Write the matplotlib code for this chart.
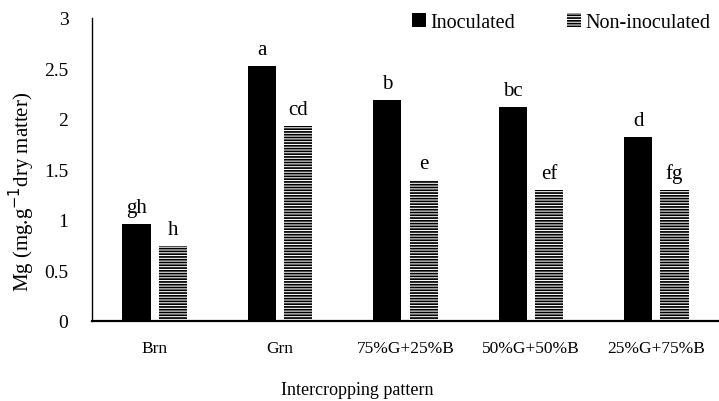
import matplotlib
matplotlib.use("Agg")
import matplotlib.pyplot as plt
import numpy as np

categories = ["Brn", "Grn", "75%G+25%B", "50%G+50%B", "25%G+75%B"]
inoculated = [0.96, 2.52, 2.19, 2.12, 1.82]
non_inoculated = [0.74, 1.93, 1.39, 1.29, 1.29]
letters_inoc = ["gh", "a", "b", "bc", "d"]
letters_non = ["h", "cd", "e", "ef", "fg"]
yticks = [0, 0.5, 1, 1.5, 2, 2.5, 3]
ytick_labels = ["0", "0.5", "1", "1.5", "2", "2.5", "3"]

plt.rcParams['font.family'] = ['Liberation Serif', 'DejaVu Serif']
plt.rcParams['hatch.linewidth'] = 1.25

fig = plt.figure(figsize=(7.19, 4.02), dpi=100)
ax = fig.add_axes([0.128, 0.2, 0.872, 0.753])

x = np.arange(len(categories))
w = 0.225
off = 0.145
b1 = ax.bar(x - off, inoculated, w, color='black', label='Inoculated')
b2 = ax.bar(x + off, non_inoculated, w, color='white', edgecolor='black',
            linewidth=0, hatch='------', label='Non-inoculated')

for xi, v, t in zip(x - off, inoculated, letters_inoc):
    ax.text(xi, v + 0.07, t, ha='center', va='bottom', fontsize=15)
for xi, v, t in zip(x + off, non_inoculated, letters_non):
    ax.text(xi, v + 0.07, t, ha='center', va='bottom', fontsize=15)

ax.set_xlim(-0.5, len(categories) - 0.5)
ax.set_ylim(0, 3)
ax.set_yticks(yticks)
ax.set_yticklabels(ytick_labels, fontsize=14)
ax.set_xticks(x)
ax.set_xticklabels(categories, fontsize=12.5)
ax.tick_params(axis='both', length=0)
ax.tick_params(axis='x', pad=14)
ax.tick_params(axis='y', pad=17)
for s in ['top', 'right']:
    ax.spines[s].set_visible(False)
ax.spines['left'].set_linewidth(1.0)
ax.spines['bottom'].set_linewidth(1.6)

ax.set_xlabel("Intercropping pattern", fontsize=13)
ax.xaxis.set_label_coords(0.423, -0.226)
ax.xaxis.label.set_va('center')
ax.set_ylabel("Mg (mg.g$^{-1}$dry matter)", fontsize=15)
ax.yaxis.set_label_coords(-0.112, 0.43)
ax.yaxis.label.set_va('center')

leg = ax.legend(loc='upper right', bbox_to_anchor=(1.015, 1.075), ncol=2,
                frameon=False, fontsize=14.5, handlelength=0.7, handleheight=0.7,
                handletextpad=0.2, columnspacing=2.6)

fig.savefig("out.png", dpi=100)
